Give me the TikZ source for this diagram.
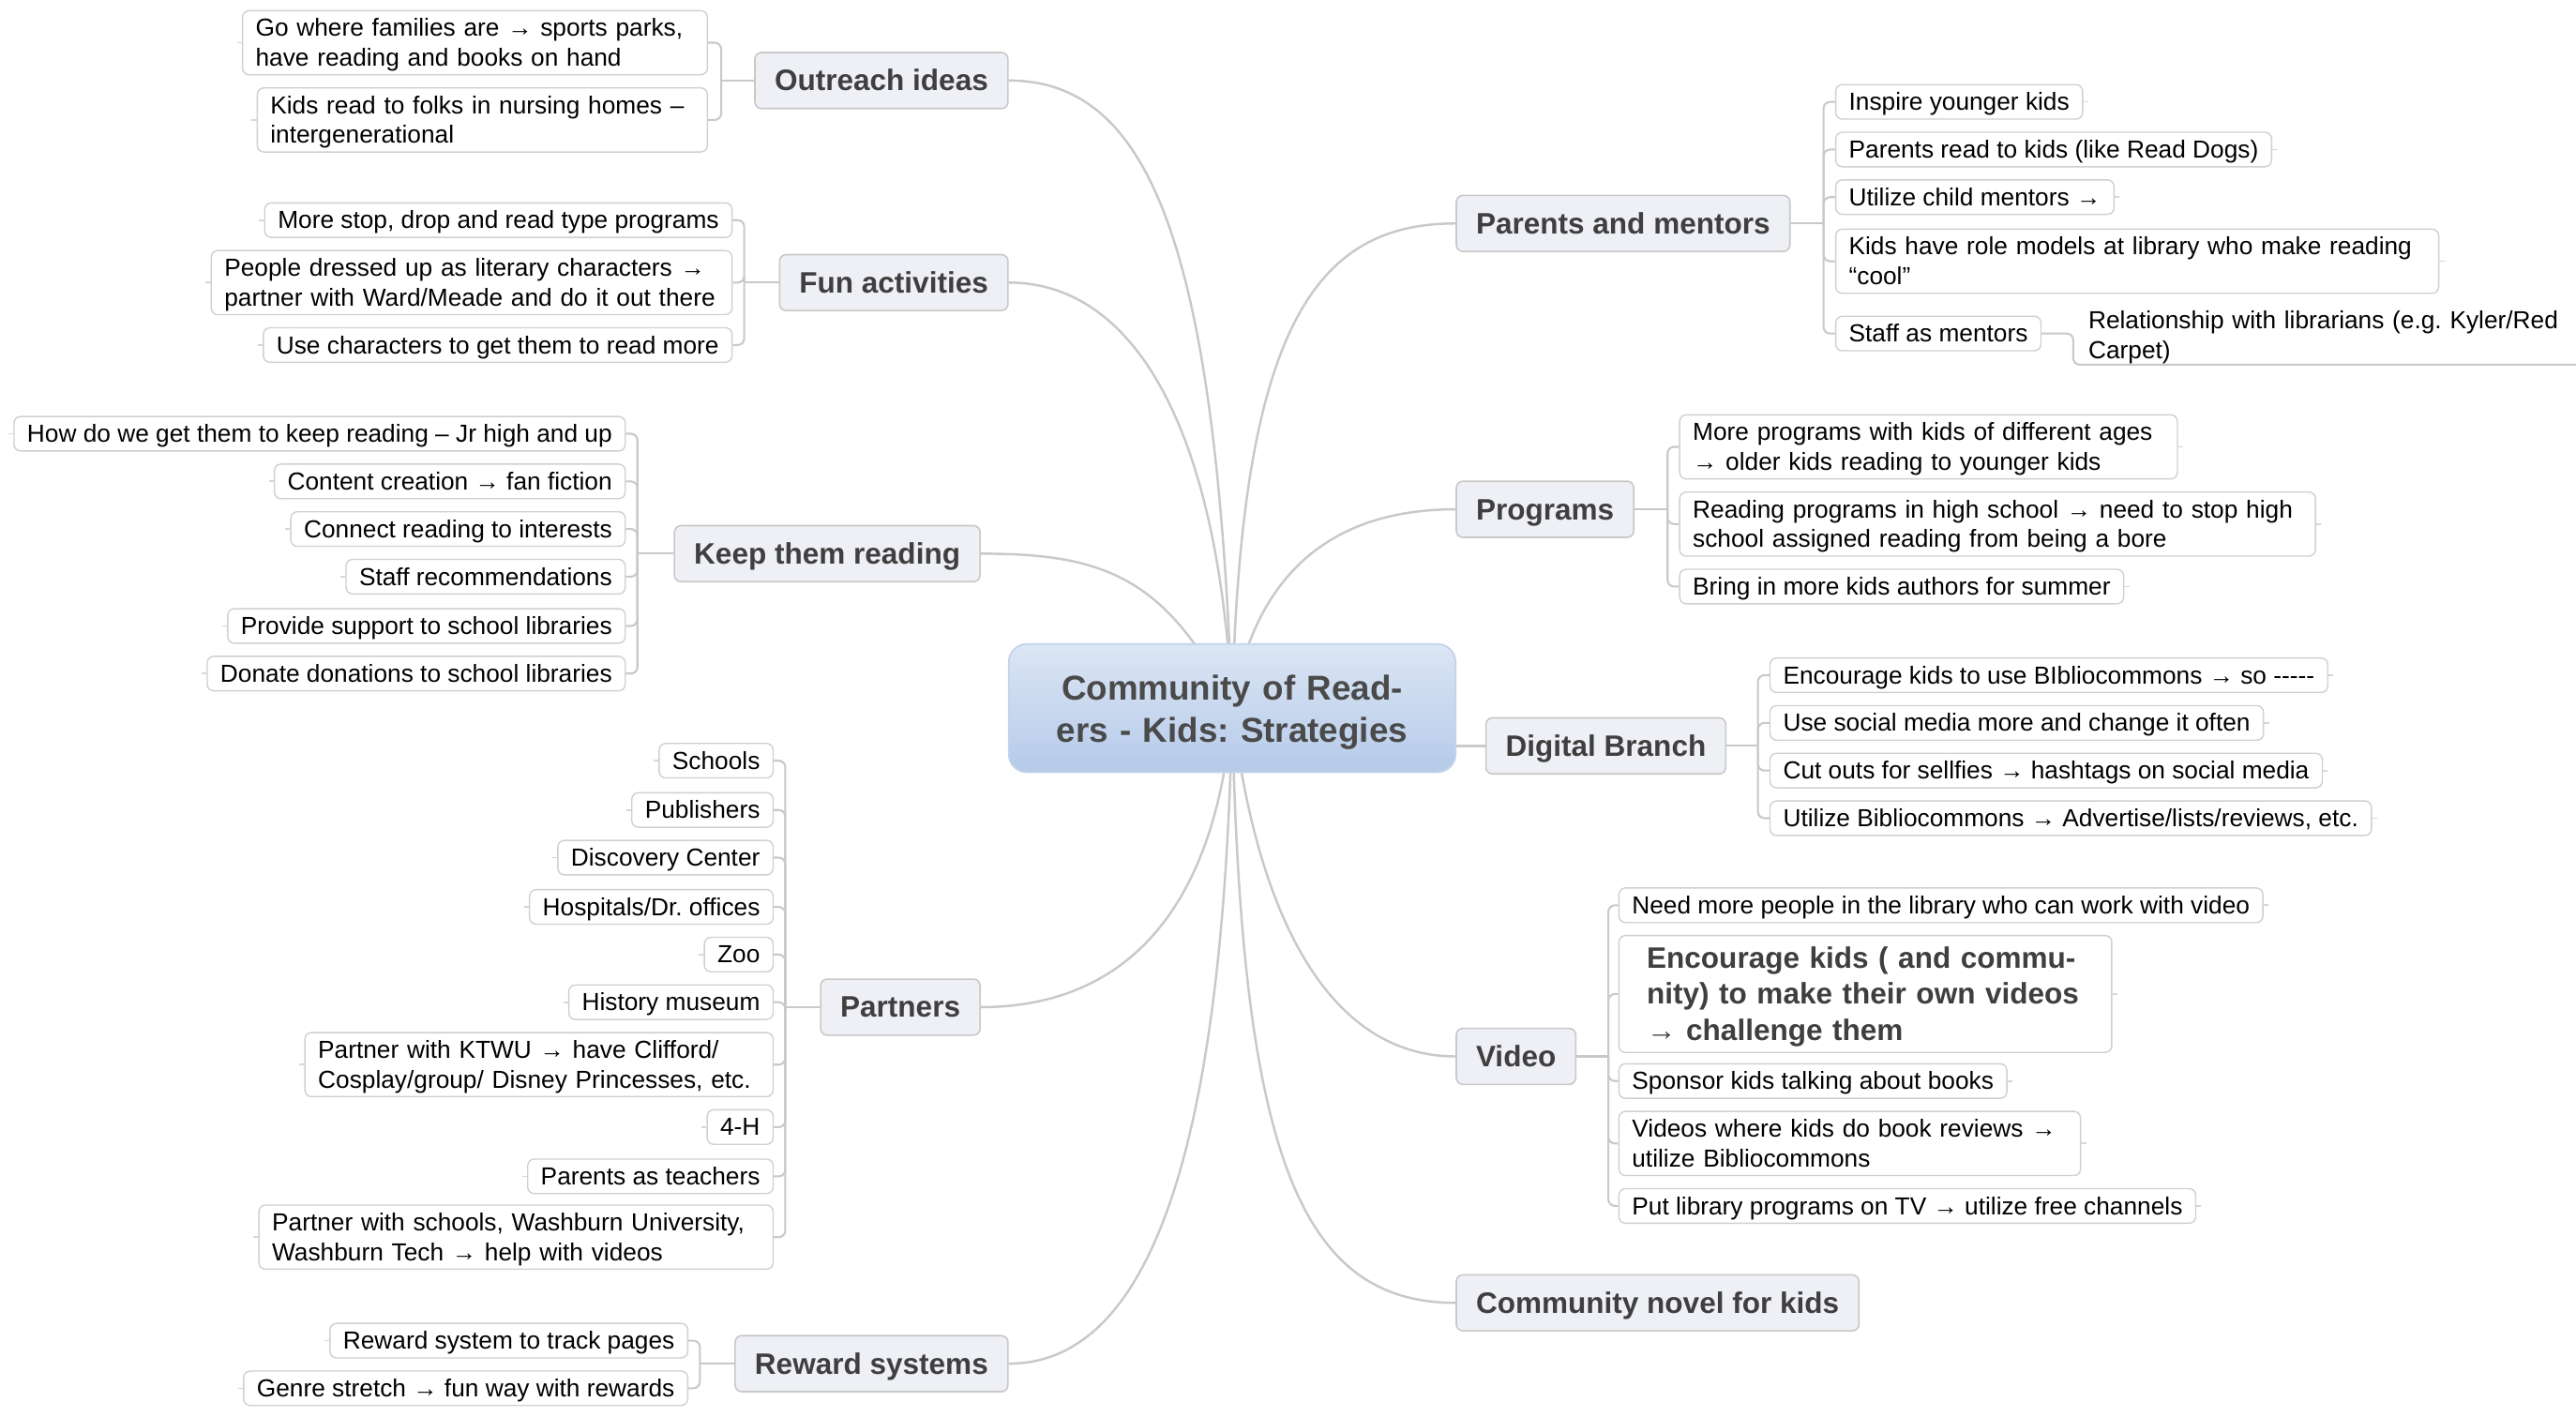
\documentclass[tikz,border=0pt]{standalone}
\usepackage{fontspec}
\setmainfont{Liberation Sans}
\usetikzlibrary{backgrounds,calc}
\frenchspacing
\definecolor{conncol}{HTML}{C9C9C9}
\definecolor{stubcol}{HTML}{D6D6D6}
\definecolor{leafborder}{HTML}{D0D0D0}
\definecolor{branchfill}{HTML}{EEF0F5}
\definecolor{branchborder}{HTML}{C8C8C8}
\definecolor{branchtext}{HTML}{3F3F3F}
\definecolor{ctop}{HTML}{DCE6F4}
\definecolor{cbot}{HTML}{B5CAE9}
\definecolor{cborder}{HTML}{C3D3EA}
\definecolor{ctext}{HTML}{4A4A4A}
\newcommand{\lfbeg}{\rule{0pt}{13.6pt}}
\newcommand{\lfend}{\rule[-3.2pt]{0pt}{3.2pt}}
\newcommand{\brbeg}{\rule[-3.8pt]{0pt}{20.1pt}}
\newcommand{\bgbeg}{\rule{0pt}{16.3pt}}
\newcommand{\bgend}{\rule[-3.8pt]{0pt}{3.8pt}}
\newcommand{\cnbeg}{\rule{0pt}{20pt}}
\newcommand{\cnend}{\rule[-4.5pt]{0pt}{4.5pt}}
\begin{document}
\begin{tikzpicture}[x=1pt,y=-1pt,
  leaf/.style={draw=leafborder, fill=white, rounded corners=4pt, line width=0.8pt,
    font=\fontsize{15}{18}\selectfont, text=black, align=left, inner xsep=8pt, inner ysep=2.1pt,
    execute at begin node=\lfbeg, execute at end node=\lfend},
  bigleaf/.style={leaf, font=\fontsize{18}{22}\selectfont\bfseries, text=branchtext, inner xsep=17pt, inner ysep=3.5pt,
    execute at begin node=\bgbeg, execute at end node=\bgend},
  plainleaf/.style={font=\fontsize{15}{18}\selectfont, text=black, align=left, inner xsep=9pt, inner ysep=0.5pt,
    execute at begin node=\lfbeg, execute at end node=\lfend},
  branch/.style={draw=branchborder, fill=branchfill, rounded corners=4pt, line width=0.9pt,
    font=\fontsize{18}{22}\selectfont\bfseries, text=branchtext, inner xsep=12pt, inner ysep=7pt,
    execute at begin node=\brbeg},
  central/.style={draw=cborder, top color=ctop, bottom color=cbot, rounded corners=11pt, line width=1pt,
    font=\fontsize{21}{25.5}\selectfont\bfseries, text=ctext, align=center, text width=260pt,
    minimum width=272pt, minimum height=78pt, inner sep=0pt,
    execute at begin node=\cnbeg, execute at end node=\cnend},
  curve/.style={draw=conncol, line width=1.4pt},
  spine/.style={draw=conncol, line width=1.2pt, rounded corners=4pt},
  stub/.style={draw=stubcol, line width=1pt}
]
\useasboundingbox (0,0) rectangle (1568,862);

% central
\node[central] (c) at (750,431) {Community of Read-\\ers - Kids: Strategies};

% ---------- left side ----------
\node[branch, anchor=east] (out) at (614,49) {Outreach ideas};
\node[leaf, anchor=east, text width=267pt] (o1) at (431,26) {Go where families are → sports parks,\\have reading and books on hand};
\node[leaf, anchor=east, text width=258pt] (o2) at (431,73) {Kids read to folks in nursing homes –\\intergenerational};
\coordinate (so) at (439,49);

\node[branch, anchor=east] (fun) at (614,172) {Fun activities};
\node[leaf, anchor=east] (f1) at (446,134) {More stop, drop and read type programs};
\node[leaf, anchor=east, text width=301pt] (f2) at (446,172) {People dressed up as literary characters →\\partner with Ward/Meade and do it out there};
\node[leaf, anchor=east] (f3) at (446,210) {Use characters to get them to read more};
\coordinate (sf) at (453,172);

\node[branch, anchor=east] (keep) at (597,337) {Keep them reading};
\node[leaf, anchor=east] (k1) at (381,264) {How do we get them to keep reading – Jr high and up};
\node[leaf, anchor=east] (k2) at (381,293) {Content creation → fan fiction};
\node[leaf, anchor=east] (k3) at (381,322) {Connect reading to interests};
\node[leaf, anchor=east] (k4) at (381,351) {Staff recommendations};
\node[leaf, anchor=east] (k5) at (381,381) {Provide support to school libraries};
\node[leaf, anchor=east] (k6) at (381,410) {Donate donations to school libraries};
\coordinate (sk) at (388,337);

\node[branch, anchor=east] (part) at (597,613) {Partners};
\node[leaf, anchor=east] (p1) at (471,463) {Schools};
\node[leaf, anchor=east] (p2) at (471,493) {Publishers};
\node[leaf, anchor=east] (p3) at (471,522) {Discovery Center};
\node[leaf, anchor=east] (p4) at (471,552) {Hospitals/Dr. offices};
\node[leaf, anchor=east] (p5) at (471,581) {Zoo};
\node[leaf, anchor=east] (p6) at (471,610) {History museum};
\node[leaf, anchor=east, text width=269pt] (p7) at (471,648) {Partner with KTWU → have Clifford/\\Cosplay/group/ Disney Princesses, etc.};
\node[leaf, anchor=east] (p8) at (471,686) {4-H};
\node[leaf, anchor=east] (p9) at (471,716) {Parents as teachers};
\node[leaf, anchor=east, text width=297pt] (p10) at (471,753) {Partner with schools, Washburn University,\\Washburn Tech → help with videos};
\coordinate (sp) at (478,613);

\node[branch, anchor=east] (rew) at (614,830) {Reward systems};
\node[leaf, anchor=east] (r1) at (419,816) {Reward system to track pages};
\node[leaf, anchor=east] (r2) at (419,845) {Genre stretch → fun way with rewards};
\coordinate (sr) at (426,830);

% ---------- right side ----------
\node[branch, anchor=west] (par) at (886,136) {Parents and mentors};
\node[leaf, anchor=west] (m1) at (1117,62) {Inspire younger kids};
\node[leaf, anchor=west] (m2) at (1117,91) {Parents read to kids (like Read Dogs)};
\node[leaf, anchor=west] (m3) at (1117,120) {Utilize child mentors →};
\node[leaf, anchor=west, text width=351pt] (m4) at (1117,159) {Kids have role models at library who make reading\\“cool”};
\node[leaf, anchor=west] (m5) at (1117,203) {Staff as mentors};
\node[plainleaf, anchor=south west, text width=292pt] (rel) at (1262,222) {Relationship with librarians (e.g. Kyler/Red\\Carpet)};
\coordinate (sm) at (1110,136);

\node[branch, anchor=west] (prog) at (886,310) {Programs};
\node[leaf, anchor=west, text width=287pt] (g1) at (1022,272) {More programs with kids of different ages\\→ older kids reading to younger kids};
\node[leaf, anchor=west, text width=371pt] (g2) at (1022,319) {Reading programs in high school → need to stop high\\school assigned reading from being a bore};
\node[leaf, anchor=west] (g3) at (1022,357) {Bring in more kids authors for summer};
\coordinate (sg) at (1015,310);

\node[branch, anchor=west] (dig) at (904,454) {Digital Branch};
\node[leaf, anchor=west] (d1) at (1077,411) {Encourage kids to use BIbliocommons → so -{}-{}-{}-{}-};
\node[leaf, anchor=west] (d2) at (1077,440) {Use social media more and change it often};
\node[leaf, anchor=west] (d3) at (1077,469) {Cut outs for sellfies → hashtags on social media};
\node[leaf, anchor=west] (d4) at (1077,498) {Utilize Bibliocommons → Advertise/lists/reviews, etc.};
\coordinate (sd) at (1070,454);

\node[branch, anchor=west] (vid) at (886,643) {Video};
\node[leaf, anchor=west] (v1) at (985,551) {Need more people in the library who can work with video};
\node[bigleaf, anchor=west, text width=266pt] (v2) at (985,605) {Encourage kids ( and commu-\\nity) to make their own videos\\→ challenge them};
\node[leaf, anchor=west] (v3) at (985,658) {Sponsor kids talking about books};
\node[leaf, anchor=west, text width=265pt] (v4) at (985,696) {Videos where kids do book reviews →\\utilize Bibliocommons};
\node[leaf, anchor=west] (v5) at (985,734) {Put library programs on TV → utilize free channels};
\coordinate (sv) at (979,643);

\node[branch, anchor=west] (nov) at (886,793) {Community novel for kids};

% ---------- connectors ----------
\begin{scope}[on background layer]
\fill[white] (0,0) rectangle (1568,862);
\draw[curve] (c.center) .. controls (740,150) and (700,49) .. (out.east);
\draw[curve] (c.center) .. controls (742,260) and (690,172) .. (fun.east);
\draw[curve] (c.center) .. controls (710,350) and (670,337) .. (keep.east);
\draw[curve] (c.center) .. controls (740,560) and (680,613) .. (part.east);
\draw[curve] (c.center) .. controls (745,700) and (700,830) .. (rew.east);
\draw[curve] (c.center) .. controls (755,200) and (800,136) .. (par.west);
\draw[curve] (c.center) .. controls (765,340) and (820,310) .. (prog.west);
\draw[curve] (dig.west -| c.east) -- (dig.west);
\draw[curve] (c.center) .. controls (765,560) and (810,643) .. (vid.west);
\draw[curve] (c.center) .. controls (755,700) and (790,793) .. (nov.west);

\draw[spine] (out.west) -- (so);
\foreach \n in {o1,o2} \draw[spine] (so) |- (\n.east);
\draw[spine] (fun.west) -- (sf);
\foreach \n in {f1,f2,f3} \draw[spine] (sf) |- (\n.east);
\draw[spine] (keep.west) -- (sk);
\foreach \n in {k1,k2,k3,k4,k5,k6} \draw[spine] (sk) |- (\n.east);
\draw[spine] (part.west) -- (sp);
\foreach \n in {p1,p2,p3,p4,p5,p6,p7,p8,p9,p10} \draw[spine] (sp) |- (\n.east);
\draw[spine] (rew.west) -- (sr);
\foreach \n in {r1,r2} \draw[spine] (sr) |- (\n.east);

\draw[spine] (par.east) -- (sm);
\foreach \n in {m1,m2,m3,m4,m5} \draw[spine] (sm) |- (\n.west);
\draw[spine] (m5.east) -- (m5.east -| rel.south west) -- (rel.south west) -- (rel.south east);
\draw[spine] (prog.east) -- (sg);
\foreach \n in {g1,g2,g3} \draw[spine] (sg) |- (\n.west);
\draw[spine] (dig.east) -- (sd);
\foreach \n in {d1,d2,d3,d4} \draw[spine] (sd) |- (\n.west);
\draw[spine] (vid.east) -- (sv);
\foreach \n in {v1,v2,v3,v4,v5} \draw[spine] (sv) |- (\n.west);

% small stubs on the outer side of leaves
\foreach \n in {o1,o2,f1,f2,f3,k1,k2,k3,k4,k5,k6,p1,p2,p3,p4,p5,p6,p7,p8,p9,p10,r1,r2}
  \draw[stub] (\n.west) -- ++(-3,0);
\foreach \n in {m1,m2,m3,m4,g1,g2,g3,d1,d2,d3,d4,v1,v2,v3,v4,v5}
  \draw[stub] (\n.east) -- ++(3,0);
\end{scope}
\end{tikzpicture}
\end{document}
